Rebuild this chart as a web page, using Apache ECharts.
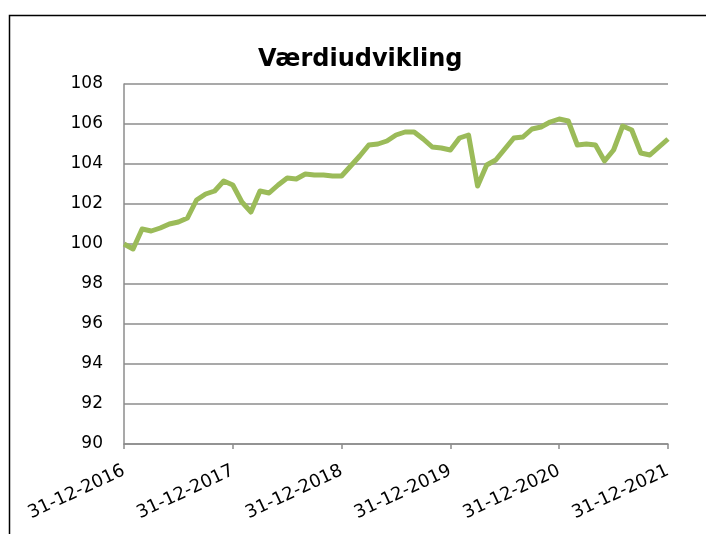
<!DOCTYPE html>
<html>
<head>
<meta charset="utf-8">
<script src="https://cdn.jsdelivr.net/npm/echarts@6/dist/echarts.min.js"></script>
<style>
  html, body { margin: 0; padding: 0; background: #fff; }
  #chart { width: 706px; height: 534px; }
</style>
</head>
<body>
<div id="chart"></div>
<script>
// månedlige værdier, 31-12-2016 .. 31-12-2021 (index = måned)
var values = [
  100.0, 99.75, 100.75, 100.65, 100.8, 101.0, 101.1, 101.3, 102.2, 102.5, 102.65, 103.15,
  102.95, 102.1, 101.6, 102.65, 102.55, 102.95, 103.3, 103.25, 103.5, 103.45, 103.45, 103.4,
  103.4, 103.9, 104.4, 104.95, 105.0, 105.15, 105.45, 105.6, 105.6, 105.25, 104.85, 104.8,
  104.7, 105.3, 105.45, 102.9, 103.95, 104.2, 104.75, 105.3, 105.35, 105.75, 105.85, 106.1,
  106.25, 106.15, 104.95, 105.0, 104.95, 104.15, 104.7, 105.9, 105.7, 104.55, 104.45, 104.85,
  105.25
];
var tickLabels = ['31-12-2016', '31-12-2017', '31-12-2018', '31-12-2019', '31-12-2020', '31-12-2021'];

var chart = echarts.init(document.getElementById('chart'));

var option = {
  animation: false,
  title: {
    text: 'Værdiudvikling',
    left: 253,
    top: 43,
    textStyle: {
      fontFamily: 'DejaVu Sans',
      fontWeight: 'bold',
      fontSize: 24,
      color: '#000'
    }
  },
  graphic: [
    { // ramme
      type: 'rect',
      left: 7,
      top: 13,
      shape: { width: 800, height: 700 },
      style: { fill: 'none', stroke: '#000', lineWidth: 1.5 },
      silent: true
    }
  ],
  grid: {
    left: 124,
    right: 38,
    top: 84,
    bottom: 90
  },
  xAxis: {
    type: 'value',
    min: 0,
    max: 60,
    interval: 12,
    axisLine: { show: true, lineStyle: { color: '#8c8c8c', width: 1.5 } },
    axisTick: { show: true, length: 5, lineStyle: { color: '#8c8c8c', width: 1.5 } },
    splitLine: { show: false },
    axisLabel: {
      rotate: 25,
      margin: 26,
      fontFamily: 'DejaVu Sans',
      fontSize: 18,
      color: '#000',
      formatter: function (v) {
        return tickLabels[v / 12];
      }
    }
  },
  yAxis: {
    type: 'value',
    min: 90,
    max: 108,
    interval: 2,
    axisLine: { show: true, lineStyle: { color: '#8c8c8c', width: 1.5 } },
    axisTick: { show: false },
    splitLine: {
      lineStyle: { color: '#8c8c8c', width: 1.5 }
    },
    axisLabel: {
      margin: 21,
      fontFamily: 'DejaVu Sans',
      fontSize: 17,
      color: '#000'
    }
  },
  series: [
    {
      type: 'line',
      data: values.map(function (v, i) { return [i, v]; }),
      showSymbol: false,
      lineStyle: { color: '#9bbb59', width: 5, join: 'round' },
      itemStyle: { color: '#9bbb59' }
    }
  ]
};

chart.setOption(option);
</script>
</body>
</html>
